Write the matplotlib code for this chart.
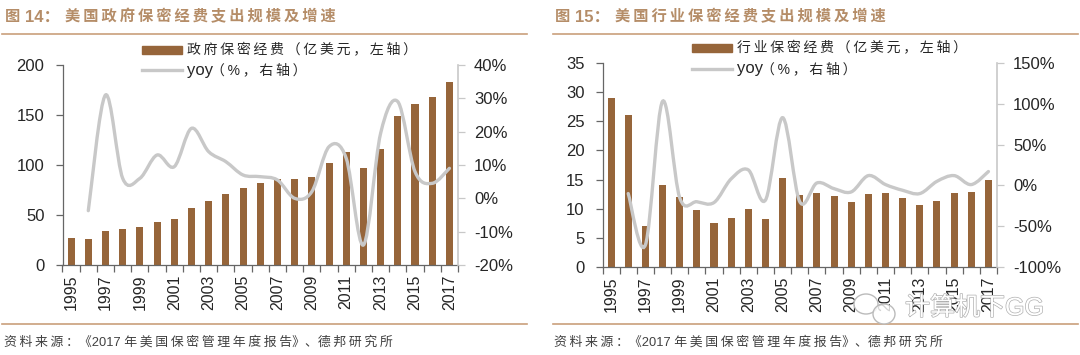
import matplotlib
matplotlib.use('Agg')
import matplotlib.pyplot as plt
from matplotlib.lines import Line2D
from matplotlib.patches import PathPatch, Rectangle, Ellipse
from matplotlib.path import Path
import matplotlib.patheffects as pe

W, H = 1080, 355
BROWN = '#96653A'
TITLE = '#B58D68'
RULE = '#C9A07C'
GREY = '#C8C8C8'
TXT = '#262626'
FONTS = ['Liberation Sans', 'Noto Sans CJK SC', 'DejaVu Sans']

# full width punctuation
LP, RP, COMMA, COLON = '\uff08', '\uff09', '\uff0c', '\uff1a'

years = list(range(1995, 2018))
year_labels = [str(y) if (y - 1995) % 2 == 0 else '' for y in years]

gov_spend = [27, 26, 34, 36, 38, 43, 46, 57, 64, 71, 77, 82, 86, 86, 88, 102, 113, 97, 116, 149, 161, 168, 183]
gov_yoy = [-3.7, 31, 6, 6, 13, 9.5, 21, 14, 11, 7, 6.5, 5.5, 0, 2, 15.5, 12, -14, 19.5, 29, 8, 4.5, 9]

ind_spend = [29, 26, 7, 14, 12, 9.7, 7.6, 8.4, 10, 8.3, 15.2, 12.3, 12.7, 12.2, 11.2, 12.6, 12.7, 11.9, 10.7, 11.3, 12.7, 12.8, 15]
ind_yoy = [-10, -73, 103, -15, -20, -21, 8, 19, -18, 83, -20, 3, -4, -8, 12, 1, -6, -10, 5, 12, 1, 17]

gov_ticks = [0, 50, 100, 150, 200]
gov_yoy_ticks = [-20, -10, 0, 10, 20, 30, 40]
ind_ticks = [0, 5, 10, 15, 20, 25, 30, 35]
ind_yoy_ticks = [-100, -50, 0, 50, 100, 150]

fig = plt.figure(figsize=(W / 100, H / 100), dpi=100, facecolor='white')


def spaced(s):
    return '\u2009'.join(s)


def put(x, y, s, size, color=TXT, **kw):
    return fig.text(x / W, 1 - y / H, s, fontsize=size, color=color, family=FONTS, va='center', **kw)


def rule(x0, x1, y):
    fig.add_artist(Line2D([x0 / W, x1 / W], [1 - y / H] * 2, color=RULE, lw=1.2))


# Excel style smoothed line through the yearly values
def smooth_path(xs, ys):
    verts = [(xs[0], ys[0])]
    codes = [Path.MOVETO]
    n = len(xs)
    for i in range(n - 1):
        x0, y0 = (xs[i - 1], ys[i - 1]) if i > 0 else (xs[i], ys[i])
        x3, y3 = (xs[i + 2], ys[i + 2]) if i + 2 < n else (xs[i + 1], ys[i + 1])
        c1 = (xs[i] + (xs[i + 1] - x0) / 6, ys[i] + (ys[i + 1] - y0) / 6)
        c2 = (xs[i + 1] - (x3 - xs[i]) / 6, ys[i + 1] - (y3 - ys[i]) / 6)
        verts += [c1, c2, (xs[i + 1], ys[i + 1])]
        codes += [Path.CURVE4] * 3
    return Path(verts, codes)


def panel(box, spend, yoy, ticks, yoy_ticks):
    x0, x1, y0, y1 = box
    ax = fig.add_axes([x0 / W, 1 - y1 / H, (x1 - x0) / W, (y1 - y0) / H])
    pos = list(range(len(spend)))
    ax.bar(pos, spend, width=0.41, color=BROWN, zorder=2)
    ax.set_xlim(-0.5, len(spend) - 0.5)
    ax.set_ylim(ticks[0], ticks[-1])
    ax.set_yticks(ticks)
    ax.set_xticks([p - 0.5 for p in pos] + [len(spend) - 0.5], minor=True)
    ax.set_xticks(pos)
    ax.set_xticklabels(year_labels, rotation=90, fontsize=11.5, color=TXT, family=FONTS)
    ax.tick_params(axis='x', which='major', length=0, pad=7)
    ax.tick_params(axis='x', which='minor', length=5, width=0.9, color='#666666')
    ax.tick_params(axis='y', length=5, width=0.9, color='#666666', labelsize=12, labelcolor=TXT, pad=8)
    for lab in ax.get_yticklabels():
        lab.set_family(FONTS)
    for s in ('top', 'right'):
        ax.spines[s].set_visible(False)
    ax.spines['left'].set_color('#666666')
    ax.spines['bottom'].set_color('#666666')
    ax.spines['left'].set_linewidth(0.9)
    ax.spines['bottom'].set_linewidth(0.9)

    ax2 = ax.twinx()
    ax2.set_ylim(yoy_ticks[0], yoy_ticks[-1])
    ax2.set_yticks(yoy_ticks)
    ax2.set_yticklabels([f'{t}%' for t in yoy_ticks], fontsize=12, color=TXT, family=FONTS)
    ax2.tick_params(axis='y', length=5, width=0.9, color=GREY, pad=6.5)
    for s in ('top', 'left', 'bottom'):
        ax2.spines[s].set_visible(False)
    ax2.spines['right'].set_color(GREY)
    ax2.spines['right'].set_linewidth(1.2)
    ax2.add_patch(PathPatch(smooth_path(pos[1:], yoy), fc='none', ec=GREY, lw=2.4, capstyle='round', zorder=3))


def legend(x, y1, y2, label1, label2):
    fig.add_artist(Rectangle((x / W, 1 - (y1 + 4) / H), 40 / W, 8 / H, color=BROWN, transform=fig.transFigure))
    fig.add_artist(Line2D([x / W, (x + 40) / W], [1 - y2 / H] * 2, color=GREY, lw=2.4))
    put(x + 45, y1, label1, 10)
    put(x + 45, y2, 'yoy', 12)
    put(x + 69, y2, label2, 10)


def title(x, num, text):
    put(x, 17, '图', 11, TITLE, fontweight='bold')
    put(x + 20, 17, num + COLON, 12, TITLE, fontweight='bold')
    put(x + 60, 17, spaced(text), 11, TITLE, fontweight='bold')


panel((62.5, 458, 65, 265), gov_spend, gov_yoy, gov_ticks, gov_yoy_ticks)
panel((602.5, 997, 63, 267), ind_spend, ind_yoy, ind_ticks, ind_yoy_ticks)

title(5, '14', '美国政府保密经费支出规模及增速')
title(555, '15', '美国行业保密经费支出规模及增速')
rule(2, 527, 34)
rule(553, 1078, 34)
rule(2, 527, 324)
rule(553, 1078, 324)

yoy_text = spaced(LP + '%' + COMMA + '右轴' + RP)
legend(142, 50, 70, spaced('政府保密经费' + LP + '亿美元' + COMMA + '左轴' + RP), yoy_text)
legend(692, 48, 69, spaced('行业保密经费' + LP + '亿美元' + COMMA + '左轴' + RP), yoy_text)

source = spaced('资料来源' + COLON) + '\u300a2017 ' + spaced('年美国保密管理年度报告') + '\u300b\u3001' + spaced('德邦研究所')
put(4, 342, source, 9.3, '#404040')
put(554, 342, source, 9.3, '#404040')

# watermark
stroke = [pe.withStroke(linewidth=1, foreground='#B0B0B0')]
put(905, 308, '计算机下GG', 18, 'white', path_effects=stroke, zorder=10)
for cx, cy, w, h in [(866, 304, 24, 20), (884, 314, 22, 20)]:
    fig.add_artist(Ellipse((cx / W, 1 - cy / H), w / W, h / H, fc=(1, 1, 1, 0.8), ec='#BBBBBB', lw=1,
                           transform=fig.transFigure, zorder=9))

fig.savefig('out.png', dpi=100)
